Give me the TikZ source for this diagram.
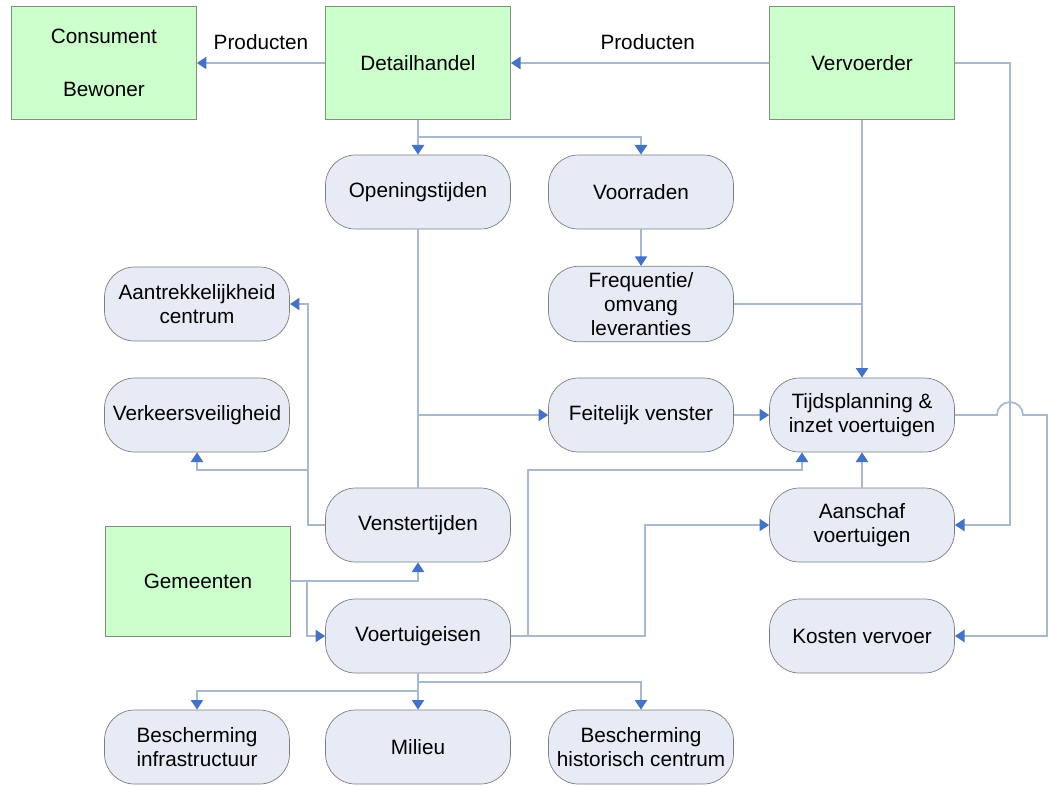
\documentclass[tikz,border=0pt]{standalone}
\usepackage{fontspec}
\setmainfont{Liberation Sans}
\usetikzlibrary{positioning,calc,arrows.meta}
\definecolor{boxgreen}{RGB}{204,255,204}
\definecolor{boxedge}{RGB}{125,145,125}
\definecolor{ovalfill}{RGB}{231,235,246}
\definecolor{ovaledge}{RGB}{125,125,130}
\definecolor{linegray}{RGB}{168,184,206}
\definecolor{arrowblue}{RGB}{68,114,196}

\begin{document}
\begin{tikzpicture}[x=0.02cm,y=-0.02cm,
    font=\fontsize{11.8}{13.8}\selectfont,
    actor/.style={rectangle,draw=boxedge,fill=boxgreen,minimum width=3.7cm,minimum height=2.26cm,align=center},
    factor/.style={rectangle,rounded corners=0.6cm,draw=ovaledge,fill=ovalfill,minimum width=3.7cm,minimum height=1.48cm,inner xsep=1pt,align=center},
    link/.style={draw=linegray,line width=1pt},
    flow/.style={link,-{Triangle[length=5.5pt,width=7pt,color=arrowblue]}}]
    \useasboundingbox (0,0) rectangle (1048,785);

    % Actors
    \node[actor] (cons) at (104,63) {Consument\\[16pt]Bewoner};
    \node[actor] (detail) at (418,63) {Detailhandel};
    \node[actor] (verv) at (862,63) {Vervoerder};
    \node[actor,minimum height=2.2cm] (gem) at (198,581) {Gemeenten};

    % Factors
    \node[factor] (open) at (418,192) {Openingstijden};
    \node[factor] (voorr) at (641,192) {Voorraden};
    \node[factor] (freq) at (641,304) {Frequentie/\\omvang\\leveranties};
    \node[factor] (attr) at (197,304) {Aantrekkelijkheid\\centrum};
    \node[factor] (veilig) at (197,415) {Verkeersveiligheid};
    \node[factor] (feit) at (641,415) {Feitelijk venster};
    \node[factor] (tijd) at (862,415) {Tijdsplanning \&\\inzet voertuigen};
    \node[factor] (venster) at (418,525) {Venstertijden};
    \node[factor] (aansch) at (862,525) {Aanschaf\\voertuigen};
    \node[factor] (eisen) at (418,636) {Voertuigeisen};
    \node[factor] (kosten) at (862,636) {Kosten vervoer};
    \node[factor] (infra) at (197,747) {Bescherming\\infrastructuur};
    \node[factor] (milieu) at (418,747) {Milieu};
    \node[factor] (hist) at (641,747) {Bescherming\\historisch centrum};

    % Corner points
    \coordinate (split) at (418,137);
    \coordinate (vright) at (1010,63);
    \coordinate (hop) at (1010,415);
    \coordinate (kright) at (1047,415);
    \coordinate (vsplit) at (418,415);
    \coordinate (vleft) at (308,525);
    \coordinate (vbranch) at (308,470);
    \coordinate (gbranch) at (307,581);
    \coordinate (eright) at (645,636);
    \coordinate (ebranch) at (528,636);
    \coordinate (tin) at (802,470);
    \coordinate (dright) at (418,682);
    \coordinate (dleft) at (418,691);

    % Product flows
    \draw[flow] (detail) -- node[above=4pt] {Producten} (cons);
    \draw[flow] (verv) -- node[above=4pt,pos=0.47] {Producten} (detail);

    % Retail
    \draw[flow] (detail) -- (open);
    \draw[flow] (split) -| (voorr);
    \draw[flow] (voorr) -- (freq);

    % Carrier
    \draw[flow] (verv) -- (tijd);
    \draw[link] (freq) -- (freq -| tijd);
    \draw[flow] (verv) -- (vright) |- (aansch);
    \draw[flow] (tijd) -- ($(hop)+(-13,0)$) arc[start angle=180,end angle=0,radius=0.26cm] -- (kright) |- (kosten);
    \draw[flow] (aansch) -- (tijd);

    % Time windows
    \draw[link] (open) -- (venster);
    \draw[flow] (vsplit) -- (feit);
    \draw[flow] (feit) -- (tijd);
    \draw[flow] (venster) -- (vleft) |- (attr);
    \draw[flow] (vbranch) -| (veilig);

    % Municipality
    \draw[flow] (gem) -| (venster);
    \draw[flow] (gbranch) |- (eisen);

    % Vehicle requirements
    \draw[flow] (eisen) -- (eright) |- (aansch);
    \draw[flow] (ebranch) |- (tin) -- (tin |- tijd.south);
    \draw[flow] (eisen) -- (milieu);
    \draw[flow] (dright) -| (hist);
    \draw[flow] (dleft) -| (infra);
\end{tikzpicture}
\end{document}
